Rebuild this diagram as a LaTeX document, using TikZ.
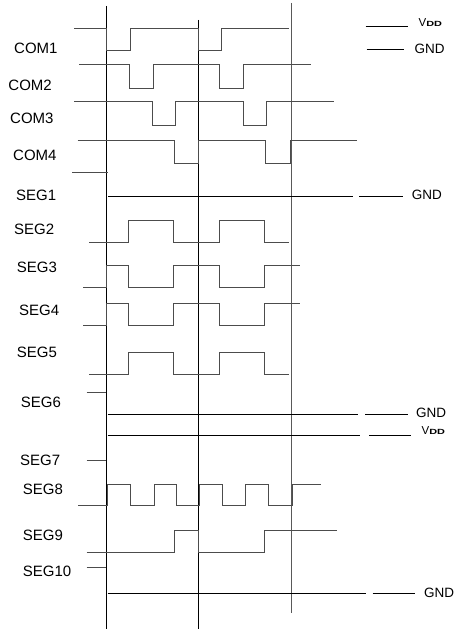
\documentclass[tikz,border=0pt]{standalone}
\usepackage{fontspec}
\setmainfont{Liberation Sans}
\begin{document}
\begin{tikzpicture}[x=1pt,y=-1pt,
  wave/.style={draw=black!70,line width=0.9pt},
  vline/.style={draw=black,line width=0.9pt},
  lvl/.style={draw=black,line width=0.8pt},
  lab/.style={anchor=west,inner sep=0pt,font=\fontsize{15}{18}\selectfont},
  gnd/.style={anchor=west,inner sep=0pt,font=\fontsize{13.5}{16}\selectfont},
  vdd/.style={anchor=base west,inner sep=0pt,font=\fontsize{11.5}{13}\selectfont}]
\useasboundingbox[fill=white] (0,0) rectangle (460,631);
% vertical time markers
\draw[vline] (106.7,6) -- (106.7,629);
\draw[vline] (198.7,20) -- (198.7,629);
\draw[vline,draw=black!65] (291,3) -- (291,612.7);
% labels
\node[lab] (com1) at (14,48.5) {COM1};
\node[lab] (com2) at (8.3,85) {COM2};
\node[lab] (com3) at (10,118) {COM3};
\node[lab] (com4) at (13,155) {COM4};
\node[lab] (seg1) at (16,195) {SEG1};
\node[lab] (seg2) at (14,229) {SEG2};
\node[lab] (seg3) at (16.7,267) {SEG3};
\node[lab] (seg4) at (19,310) {SEG4};
\node[lab] (seg5) at (16.7,352.5) {SEG5};
\node[lab] (seg6) at (20.7,402.3) {SEG6};
\node[lab] (seg7) at (20,460) {SEG7};
\node[lab] (seg8) at (22.7,489) {SEG8};
\node[lab] (seg9) at (22.7,535) {SEG9};
\node[lab] (seg10) at (22.7,571.7) {SEG10};
% COM waveforms
\draw[wave] (74,28.7) -- (106.7,28.7) -- (106.7,50.7) -- (130,50.7) -- (130,28.7) -- (198.7,28.7) -- (198.7,50.7) -- (221.3,50.7) -- (221.3,28.7) -- (289.3,28.7);
\draw[wave] (79.3,64) -- (129.3,64) -- (129.3,88.3) -- (153,88.3) -- (153,64) -- (219.3,64) -- (219.3,88.3) -- (243.7,88.3) -- (243.7,64) -- (310.7,64);
\draw[wave] (74,101.7) -- (152,101.7) -- (152,125.7) -- (175.3,125.7) -- (175.3,101.7) -- (243,101.7) -- (243,125.7) -- (266.7,125.7) -- (266.7,101.7) -- (334.3,101.7);
\draw[wave] (77.7,140) -- (174,140) -- (174,163.3) -- (198.7,163.3) -- (198.7,140) -- (265.3,140) -- (265.3,163.3) -- (290,163.3) -- (290,140) -- (356.7,140);
\draw[wave] (72,172.7) -- (107.7,172.7);
% SEG waveforms
\draw[lvl] (108,196) -- (353,196);
\draw[wave] (89,242.3) -- (128.7,242.3) -- (128.7,220) -- (173.7,220) -- (173.7,242.3) -- (219,242.3) -- (219,220) -- (264.3,220) -- (264.3,242.3) -- (288.7,242.3);
\draw[wave] (83.3,287.7) -- (106,287.7) -- (106,265.7) -- (128.7,265.7) -- (128.7,287.7) -- (173.7,287.7) -- (173.7,265.7) -- (219,265.7) -- (219,287.7) -- (264.3,287.7) -- (264.3,265.7) -- (300,265.7);
\draw[wave] (83.3,325.7) -- (106,325.7) -- (106,303.3) -- (128.7,303.3) -- (128.7,325.7) -- (173.7,325.7) -- (173.7,303.3) -- (219,303.3) -- (219,325.7) -- (264.3,325.7) -- (264.3,303.3) -- (300,303.3);
\draw[wave] (89,374) -- (128.7,374) -- (128.7,352.3) -- (173.7,352.3) -- (173.7,374) -- (219,374) -- (219,352.3) -- (264.3,352.3) -- (264.3,374) -- (288.7,374);
\draw[wave] (86.7,392.7) -- (106,392.7);
\draw[lvl] (107.7,414.3) -- (358,414.3);
\draw[lvl] (107.7,435.5) -- (360,435.5);
\draw[wave] (86.7,460.7) -- (106,460.7);
\draw[wave] (78.3,505.5) -- (107,505.5) -- (107,484) -- (130.7,484) -- (130.7,505.5) -- (154.3,505.5) -- (154.3,484) -- (176.3,484) -- (176.3,505.5) -- (199.3,505.5) -- (199.3,484) -- (222.7,484) -- (222.7,505.5) -- (245.7,505.5) -- (245.7,484) -- (268.3,484) -- (268.3,505.5) -- (292,505.5) -- (292,484) -- (321,484);
\draw[wave] (86.7,552.5) -- (174,552.5) -- (174,530) -- (198.7,530) -- (198.7,552.5) -- (264.3,552.5) -- (264.3,530) -- (336.7,530);
\draw[wave] (86.7,567.7) -- (106,567.7);
\draw[lvl] (107.7,593.3) -- (366,593.3);
% right-hand level legends
\newcommand{\vddtext}{V\scalebox{1.45}[1]{\fontsize{7.5}{8}\selectfont\bfseries DD}}
\draw[lvl] (365.7,26.5) -- (408.3,26.5);
\node[vdd] (vdd1) at (418.5,27) {\vddtext};
\draw[lvl] (366.7,49.3) -- (404,49.3);
\node[gnd] (gnd1) at (414.3,49) {GND};
\draw[lvl] (359,196) -- (402.7,196);
\node[gnd] (gnd2) at (411.7,195) {GND};
\draw[lvl] (365,414.3) -- (408.3,414.3);
\node[gnd] (gnd3) at (416,413) {GND};
\draw[lvl] (369.3,435.5) -- (411,435.5);
\node[vdd] (vdd2) at (421.5,434.8) {\vddtext};
\draw[lvl] (372.7,593.3) -- (415,593.3);
\node[gnd] (gnd4) at (424,593) {GND};
\end{tikzpicture}
\end{document}
